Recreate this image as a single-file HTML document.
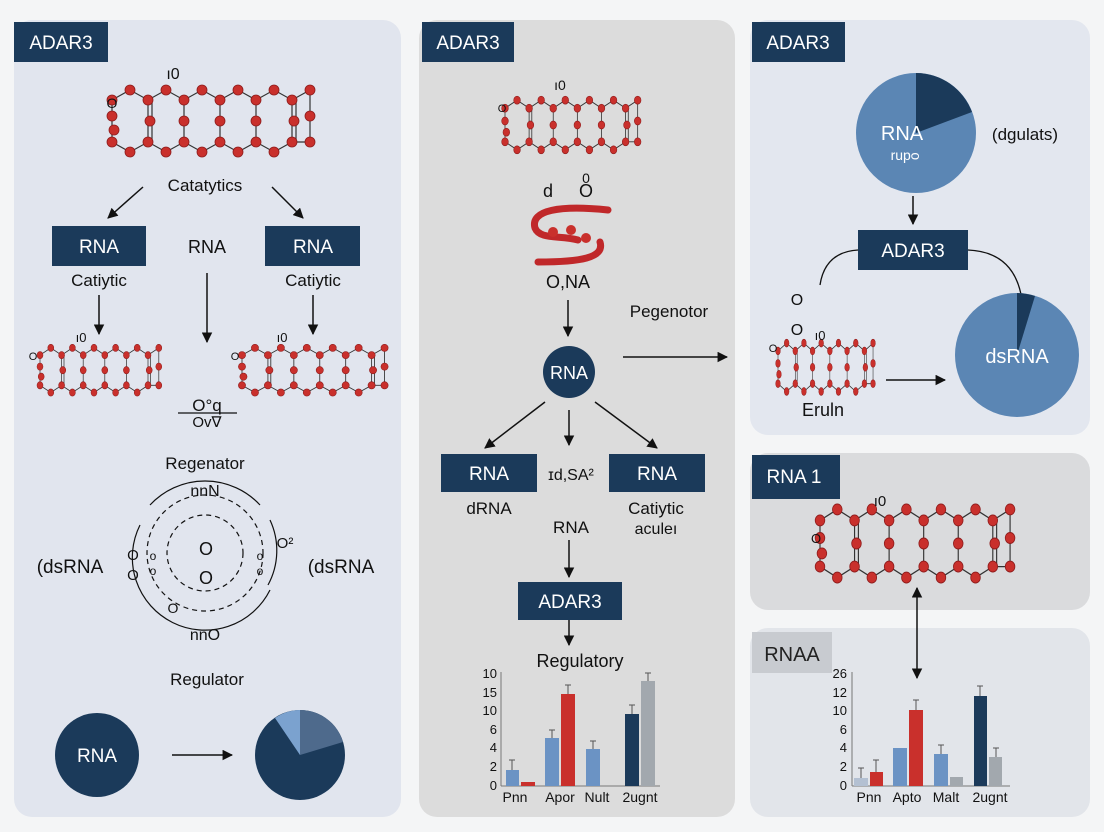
<!DOCTYPE html>
<html><head><meta charset="utf-8"><style>
html,body{margin:0;padding:0;background:#f4f5f6;}
svg{display:block;font-family:"Liberation Sans",sans-serif;}
</style></head><body>
<svg width="1104" height="832" viewBox="0 0 1104 832" xmlns="http://www.w3.org/2000/svg">
<defs>
<marker id="ah" viewBox="0 0 10 10" refX="9" refY="5" markerWidth="7" markerHeight="7" orient="auto-start-reverse"><path d="M0,0 L10,5 L0,10 z" fill="#111"/></marker>
<g id="mol">
<g stroke="#333" stroke-width="1.2" fill="none">
<polyline points="0,14 18,4 36,14 54,4 72,14 90,4 108,14 126,4 144,14 162,4 180,14 198,4"/>
<polyline points="0,56 18,66 36,56 54,66 72,56 90,66 108,56 126,66 144,56 162,66 180,56 198,56"/>
<path d="M0,14V56M36,14V56M72,14V56M108,14V56M144,14V56M180,14V56M198,4V56M40,14V56M184,14V56"/>
</g>
<g fill="#c9302c" stroke="#8e1c1c" stroke-width="0.8">
<circle cx="0" cy="14" r="5"/><circle cx="18" cy="4" r="5"/><circle cx="36" cy="14" r="5"/><circle cx="54" cy="4" r="5"/><circle cx="72" cy="14" r="5"/><circle cx="90" cy="4" r="5"/><circle cx="108" cy="14" r="5"/><circle cx="126" cy="4" r="5"/><circle cx="144" cy="14" r="5"/><circle cx="162" cy="4" r="5"/><circle cx="180" cy="14" r="5"/><circle cx="198" cy="4" r="5"/>
<circle cx="0" cy="56" r="5"/><circle cx="18" cy="66" r="5"/><circle cx="36" cy="56" r="5"/><circle cx="54" cy="66" r="5"/><circle cx="72" cy="56" r="5"/><circle cx="90" cy="66" r="5"/><circle cx="108" cy="56" r="5"/><circle cx="126" cy="66" r="5"/><circle cx="144" cy="56" r="5"/><circle cx="162" cy="66" r="5"/><circle cx="180" cy="56" r="5"/><circle cx="198" cy="56" r="5"/>
<circle cx="0" cy="30" r="5"/><circle cx="2" cy="44" r="5"/><circle cx="38" cy="35" r="5"/><circle cx="72" cy="35" r="5"/><circle cx="108" cy="35" r="5"/><circle cx="144" cy="35" r="5"/><circle cx="182" cy="35" r="5"/><circle cx="198" cy="30" r="5"/>
</g>
</g>
</defs>

<rect x="14" y="20" width="387" height="797" rx="18" fill="#e1e5ee"/>
<rect x="419" y="20" width="316" height="797" rx="18" fill="#dcdcdc"/>
<rect x="750" y="20" width="340" height="415" rx="18" fill="#e3e7ef"/>
<rect x="750" y="453" width="340" height="157" rx="18" fill="#dadbdd"/>
<rect x="750" y="628" width="340" height="189" rx="18" fill="#e2e5ea"/>

<rect x="14" y="22" width="94" height="40" fill="#1b3a5a"/><text x="61" y="49" fill="#fff" font-size="19" text-anchor="middle">ADAR3</text>
<rect x="422" y="22" width="92" height="40" fill="#1b3a5a"/><text x="468" y="49" fill="#fff" font-size="19" text-anchor="middle">ADAR3</text>
<rect x="752" y="22" width="93" height="40" fill="#1b3a5a"/><text x="798" y="49" fill="#fff" font-size="19" text-anchor="middle">ADAR3</text>
<rect x="752" y="455" width="88" height="44" fill="#1b3a5a"/><text x="794" y="483" fill="#fff" font-size="19" text-anchor="middle">RNA 1</text>
<rect x="752" y="632" width="80" height="41" fill="#c8cbd0"/><text x="792" y="661" fill="#222" font-size="20" text-anchor="middle">RNAA</text>

<g font-size="17" fill="#111" text-anchor="middle">
<use href="#mol" transform="translate(112,86)"/>
<text x="173" y="79" font-size="16">ı0</text><text x="112" y="108" font-size="14">O</text>
<text x="205" y="191">Catatytics</text>
<line x1="143" y1="187" x2="108" y2="218" stroke="#111" stroke-width="1.5" marker-end="url(#ah)"/>
<line x1="272" y1="187" x2="303" y2="218" stroke="#111" stroke-width="1.5" marker-end="url(#ah)"/>
<rect x="52" y="226" width="94" height="40" fill="#1b3a5a"/><text x="99" y="253" fill="#fff" font-size="19">RNA</text>
<rect x="265" y="226" width="95" height="40" fill="#1b3a5a"/><text x="313" y="253" fill="#fff" font-size="19">RNA</text>
<text x="207" y="253" font-size="18">RNA</text>
<text x="99" y="286">Catiytic</text><text x="313" y="286">Catiytic</text>
<line x1="99" y1="295" x2="99" y2="334" stroke="#111" stroke-width="1.5" marker-end="url(#ah)"/>
<line x1="207" y1="273" x2="207" y2="342" stroke="#111" stroke-width="1.5" marker-end="url(#ah)"/>
<line x1="313" y1="295" x2="313" y2="334" stroke="#111" stroke-width="1.5" marker-end="url(#ah)"/>
<use href="#mol" transform="translate(40,345) scale(0.6,0.72)"/>
<use href="#mol" transform="translate(242,345) scale(0.72,0.72)"/>
<text x="33" y="360" font-size="11">O</text><text x="235" y="360" font-size="11">O</text>
<text x="81" y="342" font-size="13">ı0</text><text x="282" y="342" font-size="13">ı0</text>
<text x="207" y="411" font-size="17">O°q</text>
<line x1="178" y1="413" x2="237" y2="413" stroke="#111" stroke-width="1.2"/>
<text x="207" y="427" font-size="15">Ov∇</text>
<text x="205" y="469">Regenator</text>
<path d="M150,505 A75,75 0 0 1 260,505" fill="none" stroke="#111" stroke-width="1.2"/>
<path d="M140,525 A72,72 0 0 0 270,590" fill="none" stroke="#111" stroke-width="1.2"/>
<path d="M270,520 A72,72 0 0 1 268,585" fill="none" stroke="#111" stroke-width="1.2"/>
<circle cx="205" cy="553" r="58" fill="none" stroke="#111" stroke-width="1.2" stroke-dasharray="5,4"/>
<circle cx="205" cy="553" r="38" fill="none" stroke="#111" stroke-width="1.2" stroke-dasharray="5,4"/>
<text x="205" y="496" font-size="16">nnN</text><text x="205" y="640" font-size="16">nnO</text>
<text x="206" y="555" font-size="18">O</text><text x="206" y="584" font-size="18">O</text>
<text x="133" y="560" font-size="15">O</text><text x="133" y="580" font-size="15">O</text>
<text x="153" y="560" font-size="12">o</text><text x="153" y="575" font-size="12">o</text>
<text x="260" y="560" font-size="12">o</text><text x="260" y="575" font-size="12">o</text>
<text x="285" y="548" font-size="15">O²</text><text x="173" y="613" font-size="14">O</text>
<text x="70" y="573" font-size="19">(dsRNA</text><text x="341" y="573" font-size="19">(dsRNA</text>
<text x="207" y="685">Regulator</text>
<circle cx="97" cy="755" r="42" fill="#1b3a5a"/><text x="97" y="762" fill="#fff" font-size="19">RNA</text>
<line x1="172" y1="755" x2="232" y2="755" stroke="#111" stroke-width="1.5" marker-end="url(#ah)"/>
<circle cx="300" cy="755" r="45" fill="#1b3a5a"/>
<path d="M300,755 L300,710 A45,45 0 0 1 343,742 Z" fill="#4e6a8c"/>
<path d="M300,755 L275,718 A45,45 0 0 1 300,710 Z" fill="#7ba2cf"/>

<use href="#mol" transform="translate(505,97) scale(0.67,0.8)"/>
<text x="560" y="90" font-size="14">ı0</text><text x="502" y="112" font-size="11">O</text>
<text x="548" y="197" font-size="18">d</text><text x="586" y="197" font-size="18">O</text><text x="586" y="183" font-size="14">0</text>
<path d="M608,210 C560,205 530,210 535,228 C540,240 560,235 578,240" fill="none" stroke="#c0282a" stroke-width="7" stroke-linecap="round"/>
<path d="M538,262 C580,262 605,258 600,242" fill="none" stroke="#c0282a" stroke-width="7" stroke-linecap="round"/>
<circle cx="553" cy="232" r="5" fill="#c9302c"/><circle cx="571" cy="230" r="5" fill="#c9302c"/><circle cx="586" cy="238" r="5" fill="#c9302c"/>
<text x="568" y="288" font-size="18">O,NA</text>
<line x1="568" y1="300" x2="568" y2="336" stroke="#111" stroke-width="1.5" marker-end="url(#ah)"/>
<text x="669" y="317">Pegenotor</text>
<circle cx="569" cy="372" r="26" fill="#1b3a5a"/><text x="569" y="379" fill="#fff" font-size="18">RNA</text>
<line x1="623" y1="357" x2="727" y2="357" stroke="#111" stroke-width="1.5" marker-end="url(#ah)"/>
<line x1="545" y1="402" x2="485" y2="448" stroke="#111" stroke-width="1.5" marker-end="url(#ah)"/>
<line x1="569" y1="410" x2="569" y2="445" stroke="#111" stroke-width="1.5" marker-end="url(#ah)"/>
<line x1="595" y1="402" x2="657" y2="448" stroke="#111" stroke-width="1.5" marker-end="url(#ah)"/>
<rect x="441" y="454" width="96" height="38" fill="#1b3a5a"/><text x="489" y="480" fill="#fff" font-size="19">RNA</text>
<rect x="609" y="454" width="96" height="38" fill="#1b3a5a"/><text x="657" y="480" fill="#fff" font-size="19">RNA</text>
<text x="571" y="480" font-size="16">ɪd,SA²</text>
<text x="489" y="514">dRNA</text><text x="656" y="514">Catiytic</text><text x="656" y="534" font-size="16">aculeı</text>
<text x="571" y="533">RNA</text>
<line x1="569" y1="540" x2="569" y2="577" stroke="#111" stroke-width="1.5" marker-end="url(#ah)"/>
<rect x="518" y="582" width="104" height="38" fill="#1b3a5a"/><text x="570" y="608" fill="#fff" font-size="19">ADAR3</text>
<line x1="569" y1="620" x2="569" y2="645" stroke="#111" stroke-width="1.5" marker-end="url(#ah)"/>
<text x="580" y="667" font-size="18">Regulatory</text>
<g font-size="13" text-anchor="end"><text x="497" y="678">10</text><text x="497" y="697">15</text><text x="497" y="715">10</text><text x="497" y="734">6</text><text x="497" y="752">4</text><text x="497" y="771">2</text><text x="497" y="790">0</text></g>
<line x1="501" y1="672" x2="501" y2="786" stroke="#777"/><line x1="501" y1="786" x2="660" y2="786" stroke="#777"/>
<rect x="506" y="770" width="13" height="16" fill="#6b93c4"/><rect x="521" y="782" width="14" height="4" fill="#c9302c"/>
<rect x="545" y="738" width="14" height="48" fill="#6b93c4"/><rect x="561" y="694" width="14" height="92" fill="#c9302c"/>
<rect x="586" y="749" width="14" height="37" fill="#6b93c4"/>
<rect x="625" y="714" width="14" height="72" fill="#1b3a5a"/><rect x="641" y="681" width="14" height="105" fill="#a2a8ae"/>
<g stroke="#555" stroke-width="1" fill="none"><path d="M512,770V760M509,760H515M552,738V730M549,730H555M568,694V685M565,685H571M593,749V741M590,741H596M632,714V705M629,705H635M648,681V673M645,673H651"/></g>
<g font-size="14"><text x="515" y="802">Pnn</text><text x="560" y="802">Apor</text><text x="597" y="802">Nult</text><text x="640" y="802">2ugnt</text></g>

<circle cx="916" cy="133" r="60" fill="#5b86b4"/>
<path d="M916,133 L916,73 A60,60 0 0 1 972,112 Z" fill="#1b3a5a"/>
<text x="902" y="140" fill="#fff" font-size="20">RNA</text><text x="905" y="160" fill="#fff" font-size="14">rupᴑ</text>
<text x="1025" y="140">(dgulats)</text>
<line x1="913" y1="196" x2="913" y2="224" stroke="#111" stroke-width="1.5" marker-end="url(#ah)"/>
<rect x="858" y="230" width="110" height="40" fill="#1b3a5a"/><text x="913" y="257" fill="#fff" font-size="19">ADAR3</text>
<path d="M858,250 Q825,252 820,285" fill="none" stroke="#111" stroke-width="1.3"/>
<path d="M968,250 Q1015,252 1022,300" fill="none" stroke="#111" stroke-width="1.3"/>
<text x="797" y="305" font-size="16">O</text><text x="797" y="335" font-size="16">O</text>
<use href="#mol" transform="translate(778,340) scale(0.48,0.78)"/>
<text x="820" y="340" font-size="13">ı0</text><text x="773" y="352" font-size="11">O</text>
<line x1="886" y1="380" x2="945" y2="380" stroke="#111" stroke-width="1.5" marker-end="url(#ah)"/>
<circle cx="1017" cy="355" r="62" fill="#5b86b4"/>
<path d="M1017,355 L1017,293 A62,62 0 0 1 1035,296 Z" fill="#1b3a5a"/>
<text x="1017" y="363" fill="#fff" font-size="20">dsRNA</text>
<text x="823" y="416" font-size="18">Eruln</text>

<use href="#mol" transform="translate(820,505) scale(0.96,1.1)"/>
<text x="880" y="506" font-size="15">ı0</text><text x="816" y="543" font-size="13">O</text>
<line x1="917" y1="588" x2="917" y2="678" stroke="#111" stroke-width="1.5" marker-end="url(#ah)" marker-start="url(#ah)"/>

<g font-size="13" text-anchor="end"><text x="847" y="678">26</text><text x="847" y="697">12</text><text x="847" y="715">10</text><text x="847" y="734">6</text><text x="847" y="752">4</text><text x="847" y="771">2</text><text x="847" y="790">0</text></g>
<line x1="852" y1="672" x2="852" y2="786" stroke="#777"/><line x1="852" y1="786" x2="1010" y2="786" stroke="#777"/>
<rect x="854" y="778" width="14" height="8" fill="#b3c0d2"/><rect x="870" y="772" width="13" height="14" fill="#c9302c"/>
<rect x="893" y="748" width="14" height="38" fill="#6b93c4"/><rect x="909" y="710" width="14" height="76" fill="#c9302c"/>
<rect x="934" y="754" width="14" height="32" fill="#6b93c4"/><rect x="950" y="777" width="13" height="9" fill="#a2a8ae"/>
<rect x="974" y="696" width="13" height="90" fill="#1b3a5a"/><rect x="989" y="757" width="13" height="29" fill="#a2a8ae"/>
<g stroke="#555" stroke-width="1" fill="none"><path d="M861,778V768M858,768H864M876,772V760M873,760H879M916,710V700M913,700H919M941,754V745M938,745H944M980,696V686M977,686H983M996,757V748M993,748H999"/></g>
<g font-size="14"><text x="869" y="802">Pnn</text><text x="907" y="802">Apto</text><text x="946" y="802">Malt</text><text x="990" y="802">2ugnt</text></g>
</g>
</svg>
</body></html>
